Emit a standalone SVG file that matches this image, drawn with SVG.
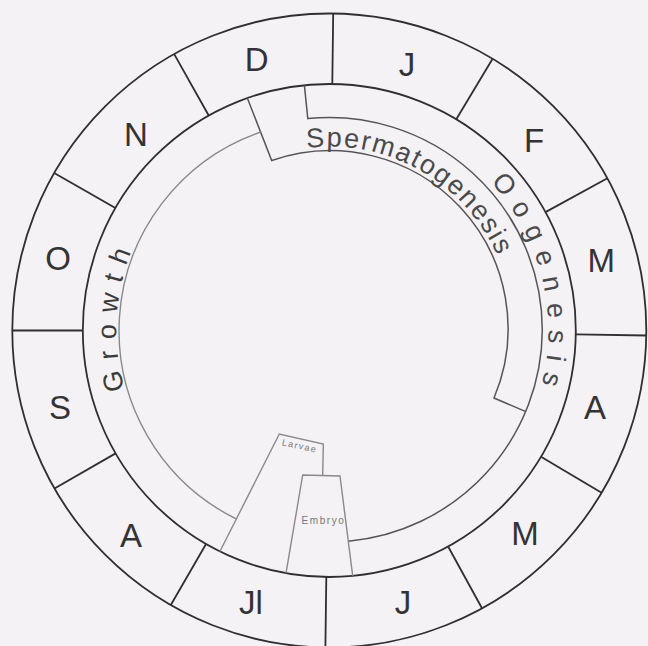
<svg xmlns="http://www.w3.org/2000/svg" width="648" height="646" viewBox="0 0 648 646">
<style>
.ring{fill:none;stroke:#2f2f2f;stroke-width:1.8}
.div{stroke:#2f2f2f;stroke-width:1.8;fill:none}
.band{fill:none;stroke:#555;stroke-width:1.5;stroke-linejoin:miter}
.light{fill:none;stroke:#8a8a8a;stroke-width:1.4}
.mon{font-family:"Liberation Sans",Arial,sans-serif;font-size:33px;fill:#333;text-anchor:middle}
.arc{font-family:"Liberation Sans",Arial,sans-serif;font-size:27px}
.tiny{font-family:"Liberation Sans",Arial,sans-serif;fill:#777;text-anchor:middle}
</style>
<defs>
<path id="spermPath" d="M306.9,147.9 A184 184 0 0 1 510.5,362.5"/>
<path id="oogPath" d="M490.2,182 A219 219 0 0 1 519,440"/>
<path id="growthPath" d="M124.7,389.6 A213 213 0 0 1 166.1,193.6"/>
</defs>
<rect x="0" y="0" width="648" height="646" fill="#f4f2f5"/>
<g id="year-ring">
<circle class="ring" cx="329.3" cy="330.5" r="317"/>
<circle class="ring" cx="329.3" cy="330.5" r="246.5"/>
</g>
<g id="connectors">
<line class="div" x1="332.3" y1="84" x2="333.2" y2="13.5"/>
<line class="div" x1="456.3" y1="119.2" x2="492.6" y2="58.8"/>
<line class="div" x1="545.5" y1="212.1" x2="607.4" y2="178.3"/>
<line class="div" x1="575.8" y1="334.4" x2="646.3" y2="335.5"/>
<line class="div" x1="541" y1="456.7" x2="601.6" y2="492.8"/>
<line class="div" x1="448.1" y1="546.5" x2="482" y2="608.3"/>
<line class="div" x1="326.3" y1="577" x2="325.4" y2="647.5"/>
<line class="div" x1="206.05" y1="544" x2="170.8" y2="605"/>
<line class="div" x1="115.6" y1="453.4" x2="54.5" y2="488.5"/>
<line class="div" x1="82.8" y1="330.5" x2="12.3" y2="330.5"/>
<line class="div" x1="115.4" y1="208" x2="54.2" y2="173"/>
<line class="div" x1="208.7" y1="115.5" x2="174.2" y2="54.1"/>
</g>
<g id="month-J1"><text class="mon" x="407" y="75.8">J</text></g>
<g id="month-F"><text class="mon" x="534" y="152.3">F</text></g>
<g id="month-M1"><text class="mon" x="601.3" y="271.8">M</text></g>
<g id="month-A1"><text class="mon" x="595" y="418.8">A</text></g>
<g id="month-M2"><text class="mon" x="525" y="544.8">M</text></g>
<g id="month-J2"><text class="mon" x="403" y="613.8">J</text></g>
<g id="month-Jl"><text class="mon" x="251" y="613.8">Jl</text></g>
<g id="month-A2"><text class="mon" x="131" y="546.8">A</text></g>
<g id="month-S"><text class="mon" x="60" y="418.8">S</text></g>
<g id="month-O"><text class="mon" x="58" y="269.8">O</text></g>
<g id="month-N"><text class="mon" x="136" y="145.8">N</text></g>
<g id="month-D"><text class="mon" x="256.7" y="71">D</text></g>
<g id="spermatogenesis">
<path class="band" d="M247.5,98.5 L271.7,160.5 A178 178 0 0 1 494,398 L525.3,411.4"/>
<text class="arc" fill="#4a4a4a" letter-spacing="1.7"><textPath href="#spermPath">Spermatogenesis</textPath></text>
</g>
<g id="oogenesis">
<path class="band" d="M304.4,85.3 L307.8,118.6 A213 213 0 0 1 542.3,330.5 A213 213 0 0 1 348.4,541.2"/>
<text class="arc" fill="#4a4a4a" letter-spacing="11"><textPath href="#oogPath">Oogenesis</textPath></text>
</g>
<g id="growth">
<path class="light" d="M260.6,132 A210 210 0 0 0 236.4,519"/>
<text class="arc" fill="#3a3a3a" letter-spacing="10.6"><textPath href="#growthPath">Growth</textPath></text>
</g>
<g id="larvae">
<path class="light" d="M219.9,551.5 L279.3,434 L323.3,444 L322.7,475.5"/>
<text class="tiny" font-size="9" letter-spacing="1.4" transform="translate(299,449) rotate(12)">Larvae</text>
</g>
<g id="embryo">
<path class="light" d="M286,573.2 L302.7,475 L340,476 L352.7,575.9"/>
<text class="tiny" font-size="10" letter-spacing="1.6" x="323.5" y="524">Embryo</text>
</g>
</svg>
